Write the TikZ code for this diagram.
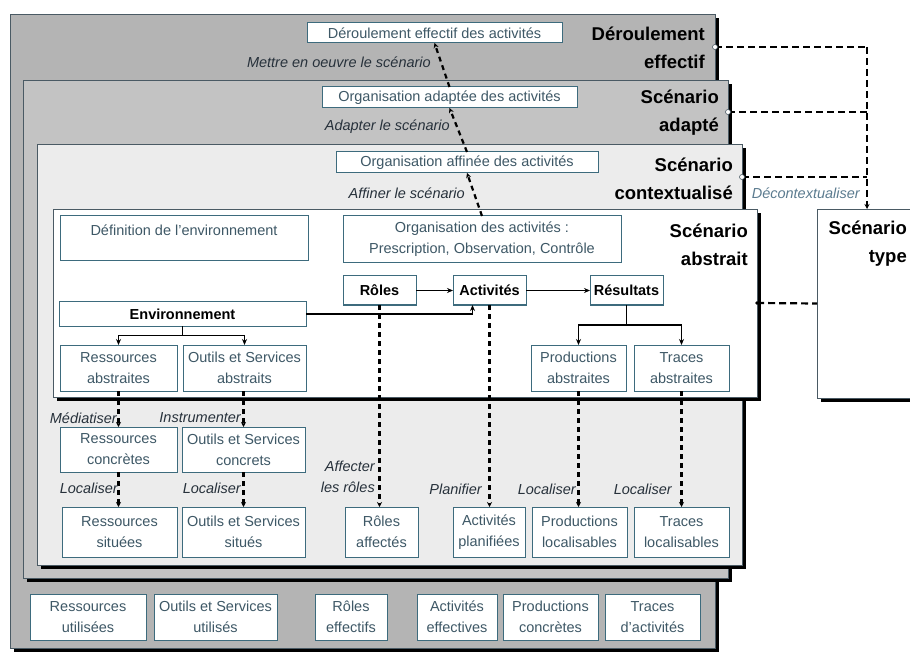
\documentclass[tikz,border=0pt]{standalone}
\usepackage{fontspec}
\setmainfont{Liberation Sans}
\usetikzlibrary{arrows.meta,calc}
\definecolor{frA}{HTML}{B4B4B4}
\definecolor{frB}{HTML}{C3C3C3}
\definecolor{frC}{HTML}{ECECEC}
\definecolor{bord}{HTML}{3D6B7D}
\definecolor{btext}{HTML}{3E5866}
\definecolor{ltext}{HTML}{27313B}
\definecolor{dtext}{HTML}{5B7B8F}
\definecolor{frameline}{HTML}{4A5A64}
\begin{document}
\begin{tikzpicture}[x=1pt,y=-1pt,
 frame/.style={draw=frameline,line width=0.8pt,inner sep=0pt,outer sep=0pt,
   preaction={fill=black,transform canvas={shift={(4pt,-4pt)}}}},
 box/.style={draw=bord,fill=white,line width=1pt,inner sep=0pt,outer sep=0pt,align=center,text=btext,font=\fontsize{14.5}{21}\selectfont},
 bbox/.style={box,text=black,font=\fontsize{14.5}{21}\selectfont\bfseries},
 title/.style={align=right,anchor=east,inner sep=0pt,text=black,font=\fontsize{18.5}{28}\selectfont\bfseries},
 lab/.style={inner sep=0pt,anchor=east,text=ltext,font=\fontsize{14.5}{21}\selectfont\itshape},
 arr/.style={line width=1.4pt,-{Stealth[length=6pt,width=5pt]}},
 darr/.style={line width=2.2pt,dash pattern=on 5pt off 4pt,-{Stealth[length=5pt,width=5pt]}},
 dline/.style={line width=2.2pt,dash pattern=on 7pt off 4pt},
]
\useasboundingbox (0,0) rectangle (910,652);
\clip (0,0) rectangle (910,652);

% frames
\node[frame,fill=frA,minimum width=705pt,minimum height=634pt] (fr1) at (362.5,331) {};
\node[frame,fill=frB,minimum width=705pt,minimum height=498pt] (fr2) at (375.5,329) {};
\node[frame,fill=frC,minimum width=705pt,minimum height=421pt] (fr3) at (389.5,354.5) {};
\node[frame,fill=white,minimum width=704pt,minimum height=188pt] (fr4) at (405,303) {};
\node[frame,fill=white,minimum width=113pt,minimum height=189pt] (type) at (873.5,303.5) {};

% titles
\node[title] at (705,47.5) {Déroulement\\effectif};
\node[title] at (719,112.5) {Scénario\\adapté};
\node[title] at (733,179) {Scénario\\contextualisé};
\node[title] at (748,244.5) {Scénario\\abstrait};
\node[title] at (907,243.5) {Scénario\\type};

% right dashed links
\coordinate (j1) at (867,47);
\coordinate (j2) at (867,112);
\coordinate (j3) at (867,177);
\draw[dline] (fr1.east |- j1) -- (j1);
\draw[dline] (fr2.east |- j2) -- (j2);
\draw[dline] (fr3.east |- j3) -- (j3);
\draw[dline,-{Stealth[length=5pt,width=5pt]}] (j1) -- (type.north -| j1);
\draw[dline] (fr4.east) -- (type.west);
\filldraw[fill=white,draw=frameline,line width=0.6pt] (fr1.east |- j1) circle (2.5pt);
\filldraw[fill=white,draw=frameline,line width=0.6pt] (fr2.east |- j2) circle (2.5pt);
\filldraw[fill=white,draw=frameline,line width=0.6pt] (fr3.east |- j3) circle (2.5pt);
\fill (fr4.east) circle (1.8pt);
\node[lab,text=dtext] at (860,193) {Décontextualiser};

% organisation boxes
\node[box,minimum width=255pt,minimum height=20pt] (dEff) at (434.5,33) {Déroulement effectif des activités};
\node[box,minimum width=255pt,minimum height=21pt] (orgAd) at (449.5,97.5) {Organisation adaptée des activités};
\node[box,minimum width=262pt,minimum height=21pt] (orgAf) at (467,162.5) {Organisation affinée des activités};
\node[box,minimum width=248pt,text height=20pt,text depth=25pt] (defEnv) at (184,238.5) {Définition de l'environnement};
\node[box,minimum width=278pt,minimum height=47pt] (orgAct) at (482,239.5) {Organisation des activités~:\\Prescription, Observation, Contrôle};

\draw[darr] (orgAct.north) -- (orgAf.south);
\draw[darr] (orgAf.north) -- (orgAd.south);
\draw[darr] (orgAd.north) -- (dEff.south);
\node[lab] at (431,62) {Mettre en oeuvre le scénario};
\node[lab] at (450,127) {Adapter le scénario};
\node[lab] at (465,193) {Affiner le scénario};

% abstract scenario
\node[bbox,minimum width=73pt,minimum height=29pt] (roles) at (379.5,290.5) {Rôles};
\node[bbox,minimum width=73pt,minimum height=29pt] (activ) at (489.5,290.5) {Activités};
\node[bbox,minimum width=73pt,minimum height=29pt] (result) at (626.5,290.5) {Résultats};
\node[bbox,minimum width=247pt,minimum height=24pt] (env) at (182.5,314) {Environnement};
\node[box,minimum width=117pt,minimum height=46pt] (resAbs) at (118.5,368) {Ressources\\abstraites};
\node[box,minimum width=123pt,minimum height=46pt] (outAbs) at (244.5,368) {Outils et Services\\abstraits};
\node[box,minimum width=95pt,minimum height=46pt] (prodAbs) at (578.5,368) {Productions\\abstraites};
\node[box,minimum width=95pt,minimum height=46pt] (trAbs) at (681.5,368) {Traces\\abstraites};

\draw[arr] (roles) -- (activ);
\draw[arr] (activ) -- (result);
\draw[arr] (env.east) -| ([xshift=-17pt]activ.south);
\coordinate (envbr) at (182.5,335.5);
\draw[line width=1.4pt] (env.south) -- (envbr);
\draw[arr] (envbr) -| (resAbs.north);
\draw[arr] (envbr) -| (outAbs.north);
\coordinate (resbr) at (626.5,325);
\draw[line width=1.4pt] (result.south) -- (resbr);
\draw[arr] (resbr) -| (prodAbs.north);
\draw[arr] (resbr) -| (trAbs.north);

% contextualised scenario
\node[box,minimum width=117pt,minimum height=45pt] (resCon) at (118.5,449.5) {Ressources\\concrètes};
\node[box,minimum width=123pt,minimum height=45pt] (outCon) at (243.5,449.5) {Outils et Services\\concrets};
\node[box,minimum width=115pt,minimum height=50pt] (resSit) at (119.5,532) {Ressources\\situées};
\node[box,minimum width=123pt,minimum height=50pt] (outSit) at (243.5,532) {Outils et Services\\situés};
\node[box,minimum width=73pt,minimum height=50pt] (rolAff) at (381.5,532) {Rôles\\affectés};
\node[box,minimum width=72pt,minimum height=50pt] (actPl) at (489,532) {Activités\\planifiées};
\node[box,minimum width=95pt,minimum height=50pt] (prodLoc) at (579.5,532) {Productions\\localisables};
\node[box,minimum width=95pt,minimum height=50pt] (trLoc) at (681.5,532) {Traces\\localisables};

\draw[darr] (resAbs.south) -- (resCon.north);
\draw[darr] (outAbs.south -| outCon.north) -- (outCon.north);
\draw[darr] (resCon.south) -- (resCon.south |- resSit.north);
\draw[darr] (outCon.south) -- (outSit.north);
\draw[darr] (roles.south) -- (roles.south |- rolAff.north);
\draw[darr] (activ.south) -- (activ.south |- actPl.north);
\draw[darr] (prodAbs.south) -- (prodAbs.south |- prodLoc.north);
\draw[darr] (trAbs.south) -- (trLoc.north);

\node[lab] at (117,418) {Médiatiser};
\node[lab] at (241,418) {Instrumenter};
\node[lab] at (118,488) {Localiser};
\node[lab] at (241,488) {Localiser};
\node[lab,align=right] at (375,477) {Affecter\\les rôles};
\node[lab] at (482,489) {Planifier};
\node[lab] at (576,489) {Localiser};
\node[lab] at (672,489) {Localiser};

% effective row
\node[box,minimum width=116pt,minimum height=46pt] (resUt) at (88,617) {Ressources\\utilisées};
\node[box,minimum width=123pt,minimum height=46pt] (outUt) at (215.5,617) {Outils et Services\\utilisés};
\node[box,minimum width=72pt,minimum height=46pt] (rolEff) at (351,617) {Rôles\\effectifs};
\node[box,minimum width=80pt,minimum height=46pt] (actEff) at (457,617) {Activités\\effectives};
\node[box,minimum width=95pt,minimum height=46pt] (prodCon) at (550.5,617) {Productions\\concrètes};
\node[box,minimum width=95pt,minimum height=46pt] (trAct) at (652.5,617) {Traces\\d'activités};
\end{tikzpicture}
\end{document}
